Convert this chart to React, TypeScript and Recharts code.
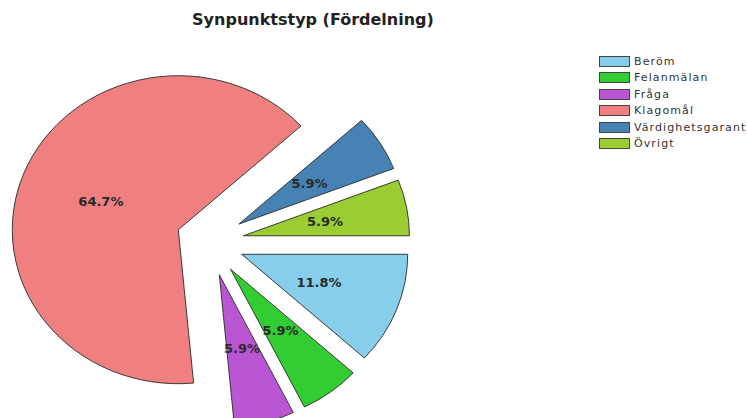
import { PieChart, Pie, Cell, Sector, Legend } from "recharts";

const categories = ["Beröm", "Felanmälan", "Fråga", "Klagomål", "Värdighetsgaranti", "Övrigt"];
const counts = [2, 1, 1, 11, 1, 1];
const colors = ["#87CEEB", "#32CD32", "#BA55D3", "#F08080", "#4682B4", "#9ACD32"];

const data = categories.map((name, i) => ({ name, value: counts[i] }));

// pie is drawn slightly squashed, like the original (non-equal axes)
const RX = 166;
const RY = 154;
const EXPLODE = 34;
const RAD = Math.PI / 180;

function ExplodedSector(props: any) {
  const { cx, cy, midAngle } = props;
  const dx = EXPLODE * Math.cos(-midAngle * RAD);
  const dy = EXPLODE * Math.sin(-midAngle * RAD);
  return (
    <g transform={`translate(${cx + dx} ${cy + dy}) scale(1 ${RY / RX}) translate(${-cx} ${-cy})`}>
      <Sector {...props} />
    </g>
  );
}

function renderLabel(props: any) {
  const { cx, cy, midAngle, percent } = props;
  const x = cx + (EXPLODE + 0.5 * RX) * Math.cos(-midAngle * RAD);
  const y = cy + (EXPLODE + 0.5 * RY) * Math.sin(-midAngle * RAD);
  return (
    <text
      x={x}
      y={y}
      textAnchor="middle"
      dominantBaseline="central"
      fill="#2a2a2a"
      fontFamily="DejaVu Sans"
      fontWeight="bold"
      fontSize={13}
    >
      {(percent * 100).toFixed(1)}%
    </text>
  );
}

function LegendBox() {
  return (
    <div style={{ fontFamily: "DejaVu Sans", fontSize: 11, color: "#333", letterSpacing: 1.1 }}>
      {categories.map((c, i) => (
        <div key={c} style={{ display: "flex", alignItems: "center", height: 16.5 }}>
          <span
            style={{
              display: "inline-block",
              width: 29,
              height: 9,
              background: colors[i],
              border: "1px solid #444",
              marginRight: 4,
              flexShrink: 0,
            }}
          />
          <span style={{ whiteSpace: "nowrap" }}>{c}</span>
        </div>
      ))}
    </div>
  );
}

export default function App() {
  return (
    <div
      style={{
        position: "fixed",
        left: 0,
        top: 0,
        width: 747,
        height: 418,
        overflow: "hidden",
        background: "#fff",
        fontFamily: "DejaVu Sans",
      }}
    >
      <div
        style={{
          position: "absolute",
          left: 0,
          top: 12,
          width: 626,
          textAlign: "center",
          fontSize: 16,
          lineHeight: "16px",
          fontWeight: "bold",
          color: "#222",
        }}
      >
        Synpunktstyp (Fördelning)
      </div>
      <PieChart width={747} height={418} margin={{ top: 0, right: 0, bottom: 0, left: 0 }}>
        <Pie
          data={data}
          dataKey="value"
          nameKey="name"
          cx={210}
          cy={242}
          outerRadius={RX}
          startAngle={0}
          endAngle={-360}
          stroke="#333"
          strokeWidth={1}
          shape={ExplodedSector}
          label={renderLabel}
          labelLine={false}
          isAnimationActive={false}
        >
          {data.map((d, i) => (
            <Cell key={d.name} fill={colors[i]} />
          ))}
        </Pie>
        <Legend
          layout="vertical"
          align="right"
          verticalAlign="top"
          content={<LegendBox />}
          wrapperStyle={{ position: "absolute", top: 53, left: 599, right: "auto", width: 160 }}
        />
      </PieChart>
    </div>
  );
}
